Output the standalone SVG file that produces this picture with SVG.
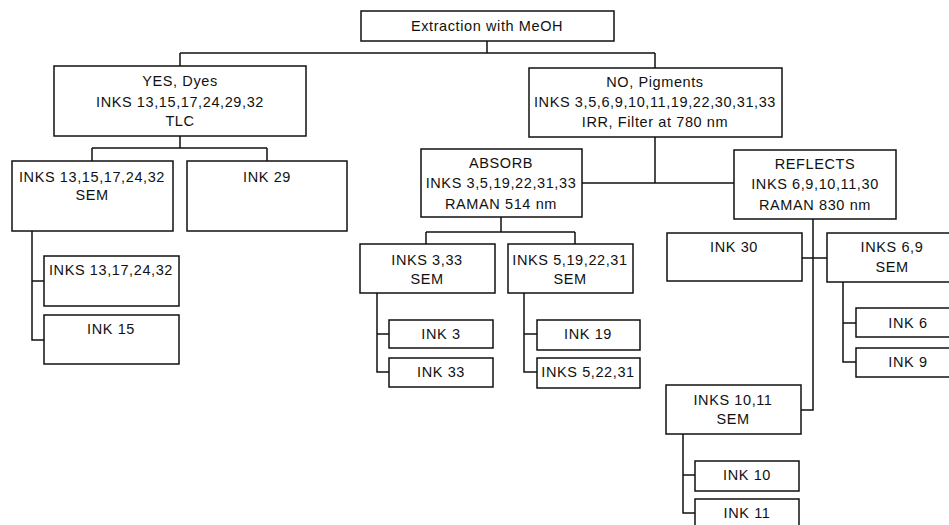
<svg xmlns="http://www.w3.org/2000/svg" width="949" height="525" viewBox="0 0 949 525">
<style>
  .box { fill: #fff; stroke: #111; stroke-width: 1.5; }
  .t { font-family: "Liberation Sans", Arial, sans-serif; font-size: 14.5px; letter-spacing: 0.6px; fill: #111; text-anchor: middle; }
  .c { fill: none; stroke: #111; stroke-width: 1.5; }
</style>
<rect width="949" height="525" fill="#fff"/>
<g id="connectors">
  <path class="c" d="M487 41 V53 M180 53 H655 M180 53 V66 M655 53 V68"/>
  <path class="c" d="M180 136 V148 M92 148 H267 M92 148 V161 M267 148 V161"/>
  <path class="c" d="M32 231 V340 H44 M32 281 H44"/>
  <path class="c" d="M655 137 V183 M582 183 H734"/>
  <path class="c" d="M501 217 V232 M426 232 H575 M426 232 V244 M575 232 V244"/>
  <path class="c" d="M377 293 V372 H389 M377 334 H389"/>
  <path class="c" d="M524 293 V372 H537 M524 334 H537"/>
  <path class="c" d="M813 219 V410 H801 M802 258 H827"/>
  <path class="c" d="M843 282 V362 H856 M843 323 H856"/>
  <path class="c" d="M683 434 V513 H695 M683 475 H695"/>
</g>
<g id="n-root">
  <rect class="box" x="361" y="11" width="253" height="30"/>
  <text class="t" x="487" y="31">Extraction with MeOH</text>
</g>
<g id="n-yes">
  <rect class="box" x="54" y="66" width="252" height="70"/>
  <text class="t" x="180" y="86">YES, Dyes</text>
  <text class="t" x="180" y="107">INKS 13,15,17,24,29,32</text>
  <text class="t" x="180" y="126">TLC</text>
</g>
<g id="n-no">
  <rect class="box" x="529" y="68" width="253" height="69"/>
  <text class="t" x="655" y="87">NO, Pigments</text>
  <text class="t" x="655" y="107">INKS 3,5,6,9,10,11,19,22,30,31,33</text>
  <text class="t" x="655" y="127">IRR, Filter at 780 nm</text>
</g>
<g id="n-yes-sem">
  <rect class="box" x="12" y="161" width="161" height="70"/>
  <text class="t" x="92" y="182">INKS 13,15,17,24,32</text>
  <text class="t" x="92" y="200">SEM</text>
</g>
<g id="n-ink29">
  <rect class="box" x="187" y="161" width="160" height="70"/>
  <text class="t" x="267" y="182">INK 29</text>
</g>
<g id="n-inks13">
  <rect class="box" x="44" y="256" width="135" height="50"/>
  <text class="t" x="111" y="275">INKS 13,17,24,32</text>
</g>
<g id="n-ink15">
  <rect class="box" x="44" y="315" width="135" height="49"/>
  <text class="t" x="111" y="334">INK 15</text>
</g>
<g id="n-absorb">
  <rect class="box" x="421" y="149" width="161" height="68"/>
  <text class="t" x="501" y="168">ABSORB</text>
  <text class="t" x="501" y="188">INKS 3,5,19,22,31,33</text>
  <text class="t" x="501" y="209">RAMAN 514 nm</text>
</g>
<g id="n-reflects">
  <rect class="box" x="734" y="150" width="162" height="69"/>
  <text class="t" x="815" y="169">REFLECTS</text>
  <text class="t" x="815" y="189">INKS 6,9,10,11,30</text>
  <text class="t" x="815" y="210">RAMAN 830 nm</text>
</g>
<g id="n-inks3-33">
  <rect class="box" x="360" y="244" width="135" height="49"/>
  <text class="t" x="427" y="265">INKS 3,33</text>
  <text class="t" x="427" y="284">SEM</text>
</g>
<g id="n-inks5-19">
  <rect class="box" x="508" y="244" width="125" height="49"/>
  <text class="t" x="570" y="265">INKS 5,19,22,31</text>
  <text class="t" x="570" y="284">SEM</text>
</g>
<g id="n-ink3">
  <rect class="box" x="389" y="320" width="104" height="28"/>
  <text class="t" x="441" y="339">INK 3</text>
</g>
<g id="n-ink33">
  <rect class="box" x="389" y="358" width="104" height="29"/>
  <text class="t" x="441" y="377">INK 33</text>
</g>
<g id="n-ink19">
  <rect class="box" x="537" y="320" width="103" height="30"/>
  <text class="t" x="588" y="339">INK 19</text>
</g>
<g id="n-inks5-22">
  <rect class="box" x="537" y="358" width="103" height="30"/>
  <text class="t" x="588" y="377">INKS 5,22,31</text>
</g>
<g id="n-ink30">
  <rect class="box" x="667" y="233" width="135" height="48"/>
  <text class="t" x="734" y="252">INK 30</text>
</g>
<g id="n-inks6-9">
  <rect class="box" x="827" y="233" width="130" height="49"/>
  <text class="t" x="892" y="252">INKS 6,9</text>
  <text class="t" x="892" y="272">SEM</text>
</g>
<g id="n-ink6">
  <rect class="box" x="856" y="308" width="104" height="29"/>
  <text class="t" x="908" y="328">INK 6</text>
</g>
<g id="n-ink9">
  <rect class="box" x="856" y="348" width="104" height="29"/>
  <text class="t" x="908" y="367">INK 9</text>
</g>
<g id="n-inks10-11">
  <rect class="box" x="666" y="385" width="135" height="49"/>
  <text class="t" x="733" y="405">INKS 10,11</text>
  <text class="t" x="733" y="424">SEM</text>
</g>
<g id="n-ink10">
  <rect class="box" x="695" y="461" width="104" height="30"/>
  <text class="t" x="747" y="480">INK 10</text>
</g>
<g id="n-ink11">
  <rect class="box" x="695" y="499" width="104" height="40"/>
  <text class="t" x="747" y="518">INK 11</text>
</g>
</svg>
